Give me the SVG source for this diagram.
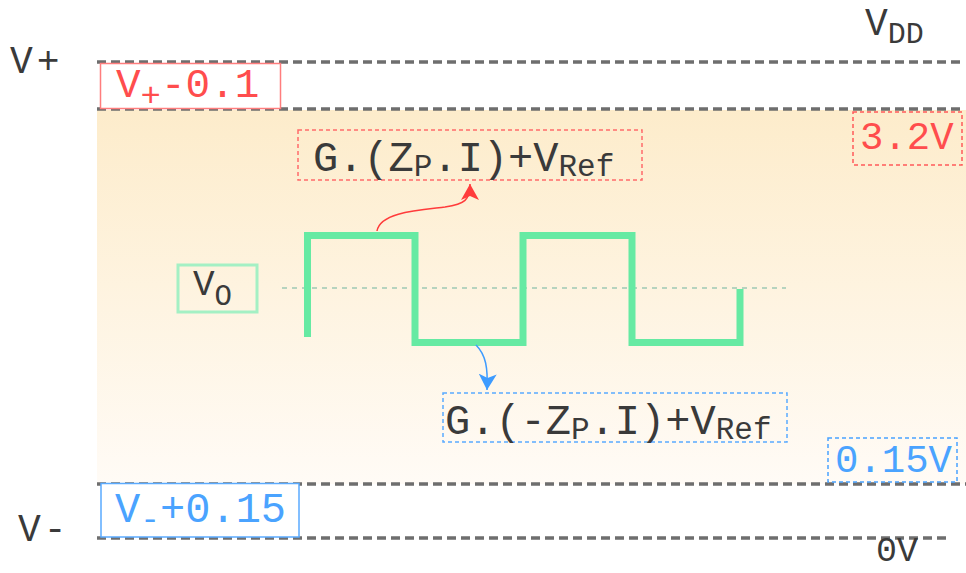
<svg xmlns="http://www.w3.org/2000/svg" width="966" height="573" viewBox="0 0 966 573">
<defs>
<linearGradient id="bg" x1="0" y1="0" x2="0" y2="1">
<stop offset="0" stop-color="#fdeccb"/>
<stop offset="1" stop-color="#fffbf6"/>
</linearGradient>
<marker id="ahRed" viewBox="0 0 16 18" refX="16" refY="9" markerWidth="16" markerHeight="18" markerUnits="userSpaceOnUse" orient="auto">
<path d="M0,0 L16,9 L0,18 L4,9 Z" fill="#ff3b3b"/>
</marker>
<marker id="ahBlue" viewBox="0 0 16 18" refX="16" refY="9" markerWidth="16" markerHeight="18" markerUnits="userSpaceOnUse" orient="auto">
<path d="M0,0 L16,9 L0,18 L4,9 Z" fill="#3d9bff"/>
</marker>
</defs>
<style>
.rail{stroke:#6e6e6e;stroke-width:3.5;stroke-dasharray:9 5;fill:none}
.t{font-family:"Liberation Mono","Courier New",monospace}
.dark{fill:#3a3a3a}
.red{fill:#ff4d4d}
.blue{fill:#4aa3ff}
</style>
<rect x="97" y="110" width="869" height="374" fill="url(#bg)"/>
<g id="rails">
<line class="rail" x1="97" y1="62" x2="962" y2="62"/>
<line class="rail" x1="97" y1="109" x2="962" y2="109"/>
<line class="rail" x1="97" y1="484" x2="966" y2="484"/>
<line class="rail" x1="97" y1="538" x2="950" y2="538"/>
</g>
<g id="label-vplus"><text class="t dark" x="10" y="73" font-size="38">V<tspan dx="4">+</tspan></text></g>
<g id="label-vminus"><text class="t dark" x="18" y="541" font-size="38">V<tspan dx="3">-</tspan></text></g>
<g id="label-vdd"><text class="t dark" x="865" y="35" font-size="38">V<tspan font-size="30" dy="8">DD</tspan></text></g>
<g id="label-0v"><text class="t dark" x="876" y="561" font-size="35">0V</text></g>
<g id="box-vplus">
<rect x="100.5" y="63.5" width="180" height="45" fill="#fff" stroke="#ff7d7d" stroke-width="1.5"/>
<text class="t red" x="116" y="97" font-size="41">V<tspan font-size="34" dy="9">+</tspan><tspan dy="-9">-0.1</tspan></text>
</g>
<g id="box-32v">
<rect x="853" y="112" width="109" height="53" fill="none" stroke="#ff5a5a" stroke-width="1.5" stroke-dasharray="4 3"/>
<text class="t red" x="860" y="149" font-size="39">3.2V</text>
</g>
<g id="box-pos">
<rect x="298" y="130" width="344" height="50" fill="none" stroke="#ff6b6b" stroke-width="1.5" stroke-dasharray="4 3"/>
<text class="t dark" x="313" y="171" font-size="42">G.(Z<tspan font-size="31" dy="5">P</tspan><tspan dy="-5">.I)+V</tspan><tspan font-size="31" dy="5">Ref</tspan></text>
</g>
<g id="box-neg">
<rect x="443" y="393" width="344" height="49" fill="none" stroke="#5aaaff" stroke-width="1.5" stroke-dasharray="4 3"/>
<text class="t dark" x="445" y="434" font-size="42">G.(-Z<tspan font-size="31" dy="5">P</tspan><tspan dy="-5">.I)+V</tspan><tspan font-size="31" dy="5">Ref</tspan></text>
</g>
<g id="box-015v">
<rect x="828" y="438" width="129" height="44" fill="none" stroke="#4aa3ff" stroke-width="1.5" stroke-dasharray="4 3"/>
<text class="t blue" x="835" y="472" font-size="39">0.15V</text>
</g>
<g id="box-vminus">
<rect x="101" y="483.5" width="198" height="53.5" fill="#fff" stroke="#5aaaff" stroke-width="1.5"/>
<text class="t blue" x="115" y="522" font-size="42">V<tspan font-size="33" dy="8">-</tspan><tspan dy="-8">+0.15</tspan></text>
</g>
<g id="box-vo">
<rect x="178" y="265" width="79" height="47" fill="none" stroke="#a4f0c4" stroke-width="3"/>
<text class="t dark" x="193" y="295" font-size="36">V<tspan font-size="29" dy="10">O</tspan></text>
</g>
<g id="midline"><line x1="282" y1="288" x2="786" y2="288" stroke="#9fc9b4" stroke-width="1.5" stroke-dasharray="5 5"/></g>
<g id="wave"><path d="M307.5,337 V235.5 H415 V342.5 H523 V235.5 H632 V342.5 H740 V289" fill="none" stroke="#66eaa3" stroke-width="7" stroke-linejoin="miter"/></g>
<g id="connectors">
<path d="M377,231 C380,212 420,210 445,207 C465,204 470,200 470,184" fill="none" stroke="#ff3b3b" stroke-width="1.5" marker-end="url(#ahRed)"/>
<path d="M476,345 C486,355 488,368 487,390" fill="none" stroke="#3d9bff" stroke-width="1.5" marker-end="url(#ahBlue)"/>
</g>
</svg>
